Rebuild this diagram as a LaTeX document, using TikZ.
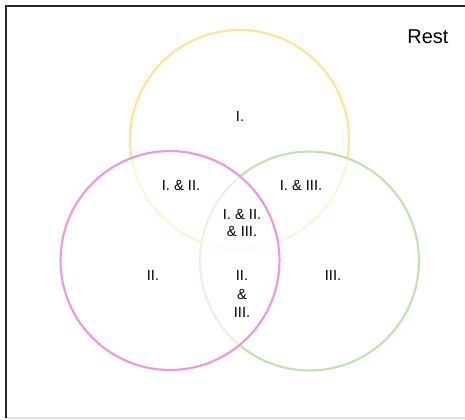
\documentclass[tikz,border=0pt]{standalone}
\usepackage{fontspec}
\setmainfont{Liberation Sans}
\usepackage{tikz}
\definecolor{setone}{RGB}{255, 228, 146}
\definecolor{settwo}{RGB}{240, 150, 220}
\definecolor{setthree}{RGB}{195, 224, 176}
\definecolor{gray85}{gray}{0.88}

\begin{document}
\begin{tikzpicture}[x=0.75pt, y=-0.75pt, thick,
    setline/.style={line width=1.6pt, fill=white, fill opacity=0.6, draw opacity=1},
    region/.style={font=\fontsize{11}{12.75}\selectfont, align=center, inner sep=0pt}]
  \useasboundingbox (0, 0) rectangle (465, 419);

  % frame, cut off at the right
  \draw [color=gray85, line width=1pt] (6, 418) -- (465, 418);
  \draw [color=black!85, line width=1.1pt] (6, 418) -- (6, 6) -- (465, 6);

  % the three sets
  \filldraw [setline, draw=setone] (239.5, 139.5) circle (82.1pt);
  \filldraw [setline, draw=setthree] (309.5, 261) circle (82.1pt);
  \filldraw [setline, draw=settwo] (170, 260.5) circle (82.1pt);

  \node (rest) [font=\fontsize{15}{18}\selectfont, inner sep=0pt] at (428, 37) {Rest};

  \node (one) [region] at (240, 116) {I.};
  \node (onetwo) [region] at (181, 185) {I. \& II.};
  \node (onethree) [region] at (301, 185) {I. \& III.};
  \node (all) [region] at (242, 222.5) {I. \& II.\\\& III.};
  \node (two) [region] at (153, 275) {II.};
  \node (three) [region] at (333, 275) {III.};
  \node (twothree) [region, font=\fontsize{11}{14}\selectfont] at (242, 294) {II.\\\&\\III.};

\end{tikzpicture}
\end{document}
